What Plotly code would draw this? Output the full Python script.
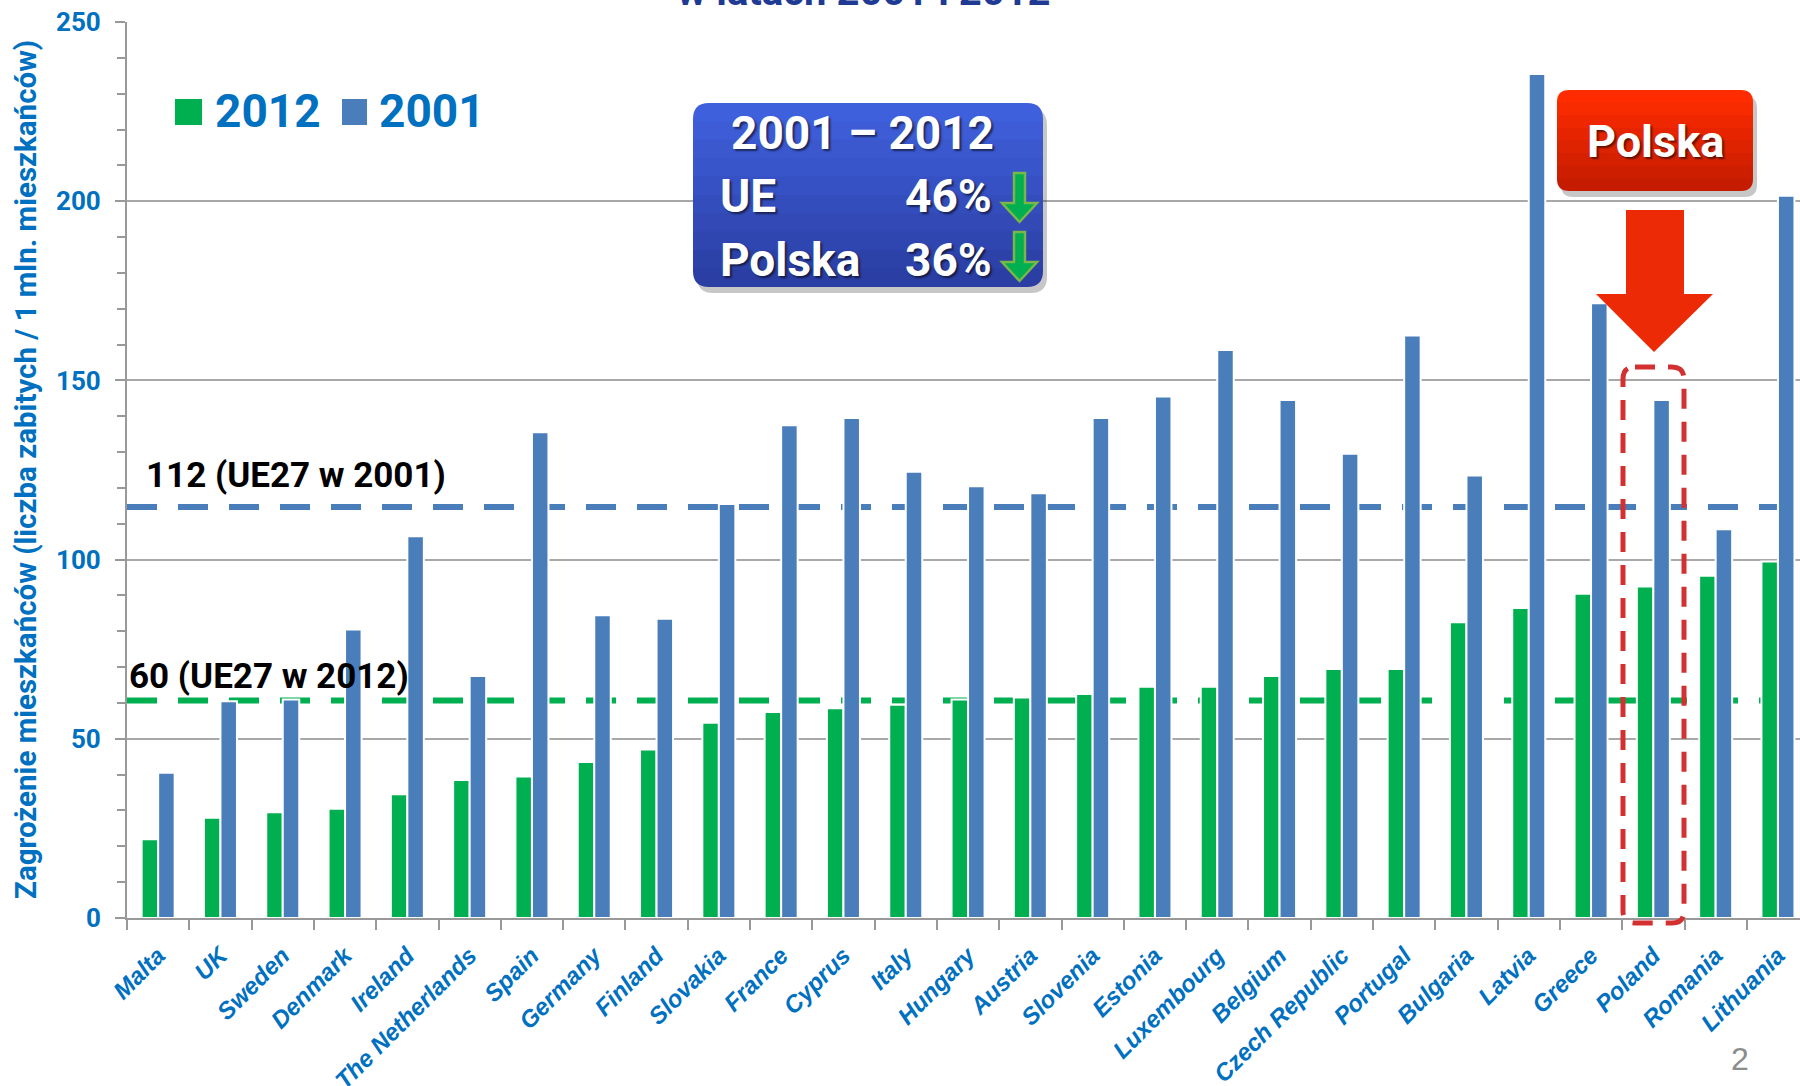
import plotly.graph_objects as go

COUNTRIES = [
    "Malta", "UK", "Sweden", "Denmark", "Ireland", "The Netherlands", "Spain",
    "Germany", "Finland", "Slovakia", "France", "Cyprus", "Italy", "Hungary",
    "Austria", "Slovenia", "Estonia", "Luxembourg", "Belgium", "Czech Republic",
    "Portugal", "Bulgaria", "Latvia", "Greece", "Poland", "Romania", "Lithuania",
]
VALUES_2012 = [22, 28, 29.5, 30.5, 34.5, 38.5, 39.5, 43.5, 47, 54.5, 57.5, 58.5, 59.5, 61,
               61.5, 62.5, 64.5, 64.5, 67.5, 69.5, 69.5, 82.5, 86.5, 90.5, 92.5, 95.5, 99.5]
VALUES_2001 = [40.5, 60.5, 61, 80.5, 106.5, 67.5, 135.5, 84.5, 83.5, 115.5, 137.5, 139.5, 124.5,
               120.5, 118.5, 139.5, 145.5, 158.5, 144.5, 129.5, 162.5, 123.5, 235.5, 171.5,
               144.5, 108.5, 201.5]
EU_LEVEL_2001 = 114.7
EU_LEVEL_2012 = 60.7
EU_LABEL_2001 = "112 (UE27 w 2001)"
EU_LABEL_2012 = "60 (UE27 w 2012)"

GREEN = "#00B050"
BLUE = "#4A7EBB"
TEXT_BLUE = "#0070C0"
GRID = "#A8A8A8"
AXIS = "#999999"
ROBOTO = "Roboto, Arial, sans-serif"

# plot area in page pixels
PL, PR, PT, PB = 127, 1800, 22, 918


def fx(x):
    return (x - PL) / (PR - PL)


def fy(y):
    return (PB - y) / (PB - PT)


def rounded_path(x0, y0, x1, y1, rt, rb):
    pts = [
        ("M", x0 + rt, y0), ("L", x1 - rt, y0), ("Q", x1, y0, x1, y0 + rt),
        ("L", x1, y1 - rb), ("Q", x1, y1, x1 - rb, y1), ("L", x0 + rb, y1),
        ("Q", x0, y1, x0, y1 - rb), ("L", x0, y0 + rt), ("Q", x0, y0, x0 + rt, y0),
    ]
    out = []
    for p in pts:
        cmd, coords = p[0], p[1:]
        xy = []
        for i in range(0, len(coords), 2):
            xy.append(f"{fx(coords[i]):.5f},{fy(coords[i + 1]):.5f}")
        out.append(cmd + " " + " ".join(xy))
    return " ".join(out) + " Z"


def poly_path(points):
    return "M " + " L ".join(f"{fx(x):.5f},{fy(y):.5f}" for x, y in points) + " Z"


def mix(c1, c2, t):
    a = [int(c1[i:i + 2], 16) for i in (1, 3, 5)]
    b = [int(c2[i:i + 2], 16) for i in (1, 3, 5)]
    return "#" + "".join(f"{round(a[k] + (b[k] - a[k]) * t):02x}" for k in range(3))


def gradient_box(x0, y0, x1, y1, r, top, bottom, n=10):
    shapes = [dict(type="path", xref="paper", yref="paper", layer="above",
                   path=rounded_path(x0 + 4, y0 + 6, x1 + 4, y1 + 6, r, r),
                   fillcolor="rgba(0,0,0,0.22)", line_width=0)]
    h = y1 - y0
    for i in range(n):
        ya = y0 + h * i / n
        yb = y0 + h * (i + 1) / n + (0.8 if i < n - 1 else 0)
        shapes.append(dict(
            type="path", xref="paper", yref="paper", layer="above",
            path=rounded_path(x0, ya, x1, yb, r if i == 0 else 0, r if i == n - 1 else 0),
            fillcolor=mix(top, bottom, i / (n - 1)), line_width=0,
        ))
    return shapes


def green_arrow(x0, y0):
    pts = [(x0 + 12, y0), (x0 + 23, y0), (x0 + 23, y0 + 30), (x0 + 35, y0 + 30),
           (x0 + 17.5, y0 + 49), (x0, y0 + 30), (x0 + 12, y0 + 30)]
    return dict(type="path", xref="paper", yref="paper", layer="above", path=poly_path(pts),
                fillcolor=GREEN, line=dict(color="#7AB648", width=2.5))


fig = go.Figure()
fig.add_trace(go.Bar(x=COUNTRIES, y=VALUES_2012, name="2012", marker_color=GREEN,
                     marker_line=dict(color="white", width=2)))
fig.add_trace(go.Bar(x=COUNTRIES, y=VALUES_2001, name="2001", marker_color=BLUE,
                     marker_line=dict(color="white", width=2)))

shapes = [
    dict(type="line", xref="paper", x0=0, x1=1, yref="y", y0=EU_LEVEL_2001, y1=EU_LEVEL_2001,
         layer="between", line=dict(color=BLUE, width=6, dash="30px,21px")),
    dict(type="line", xref="paper", x0=0, x1=1, yref="y", y0=EU_LEVEL_2012, y1=EU_LEVEL_2012,
         layer="between", line=dict(color=GREEN, width=6, dash="30px,21px")),
    # legend squares
    dict(type="rect", xref="paper", yref="paper", x0=fx(175), x1=fx(202), y0=fy(125), y1=fy(99),
         fillcolor=GREEN, line_width=0),
    dict(type="rect", xref="paper", yref="paper", x0=fx(342), x1=fx(367), y0=fy(125), y1=fy(99),
         fillcolor=BLUE, line_width=0),
    # Poland highlight
    dict(type="path", xref="paper", yref="paper", layer="above",
         path=rounded_path(1623, 367, 1684, 923, 12, 12),
         line=dict(color="#D33131", width=5, dash="20px,13px")),
    # big red arrow
    dict(type="path", xref="paper", yref="paper", layer="above",
         path=poly_path([(1626, 210), (1684, 210), (1684, 294), (1713, 294), (1654, 352),
                         (1596, 294), (1626, 294)]),
         fillcolor="#EC2A06", line_width=0),
]
shapes += gradient_box(693, 103, 1043, 287, 16, "#3F60DC", "#2B3EA3")
shapes += gradient_box(1557, 90, 1753, 191, 12, "#FF2C00", "#C51C00", n=8)
shapes += [green_arrow(1002, 173), green_arrow(1002, 232)]

white_shadow = "2px 2px 2px rgba(0,0,0,0.55)"


def txt(text, x, y, size, color, xanchor="left", shadow="none", family=ROBOTO, **kw):
    return dict(text=text, x=fx(x), y=fy(y), xref="paper", yref="paper", showarrow=False,
                xanchor=xanchor, yanchor="middle",
                font=dict(family=family, size=size, color=color, weight="bold", shadow=shadow),
                **kw)


annotations = [
    txt("w latach 2001 i 2012", 864, -9, 40, "#1F3A93", xanchor="center"),
    txt("2012", 213, 111, 46, TEXT_BLUE),
    txt("2001", 377, 111, 46, TEXT_BLUE),
    txt("2001 \u2013 2012", 862, 133, 46, "white", xanchor="center", shadow=white_shadow),
    txt("UE", 718, 196, 46, "white", shadow=white_shadow),
    txt("46%", 994, 196, 46, "white", xanchor="right", shadow=white_shadow),
    txt("Polska", 718, 260, 46, "white", shadow=white_shadow),
    txt("36%", 994, 260, 46, "white", xanchor="right", shadow=white_shadow),
    txt("Polska", 1655, 141, 45, "white", xanchor="center", shadow=white_shadow),
    txt(EU_LABEL_2001, 144, 475, 35, "black"),
    txt(EU_LABEL_2012, 127, 676, 35, "black"),
    txt("Zagrożenie mieszkańców (liczba zabitych / 1 mln. mieszkańców)", 26, 470, 29.5,
        TEXT_BLUE, xanchor="center", textangle=-90),
    dict(text="2", x=fx(1740), y=fy(1059), xref="paper", yref="paper", showarrow=False,
         xanchor="center", yanchor="middle",
         font=dict(family="Liberation Sans, Arial", size=32, color="#8C8C8C")),
]

fig.update_layout(
    width=1800,
    height=1086,
    margin=dict(l=PL, r=1800 - PR, t=PT, b=1086 - PB),
    paper_bgcolor="white",
    plot_bgcolor="white",
    showlegend=False,
    barmode="group",
    bargap=0.47,
    bargroupgap=0,
    shapes=shapes,
    annotations=annotations,
    xaxis=dict(
        type="category",
        range=[-0.5, -0.5 + (PR - PL) / 62.3],
        automargin=False,
        tickson="boundaries",
        ticks="outside",
        ticklen=10,
        tickwidth=2,
        tickcolor=AXIS,
        showline=True,
        linecolor=AXIS,
        linewidth=2,
        showgrid=False,
        tickangle=-45,
        ticklabelstandoff=12,
        tickfont=dict(family="Liberation Sans, Arial", size=24, color=TEXT_BLUE,
                      weight="bold", style="italic"),
    ),
    yaxis=dict(
        range=[0, 250],
        dtick=50,
        automargin=False,
        ticks="outside",
        ticklen=10,
        tickwidth=2,
        tickcolor=AXIS,
        showline=True,
        linecolor=AXIS,
        linewidth=2,
        gridcolor=GRID,
        gridwidth=1.5,
        zeroline=False,
        ticklabelstandoff=9,
        tickfont=dict(family=ROBOTO, size=26, color=TEXT_BLUE, weight="bold"),
        minor=dict(dtick=10, ticks="outside", ticklen=8, tickcolor=AXIS, tickwidth=1.5,
                   showgrid=False),
    ),
)

# page body has a default margin; drop it so the figure sits at the window corner
fig.write_html(
    "out.html",
    config={"displayModeBar": False},
    post_script="document.body.style.margin='0';document.body.style.overflow='hidden';",
)
